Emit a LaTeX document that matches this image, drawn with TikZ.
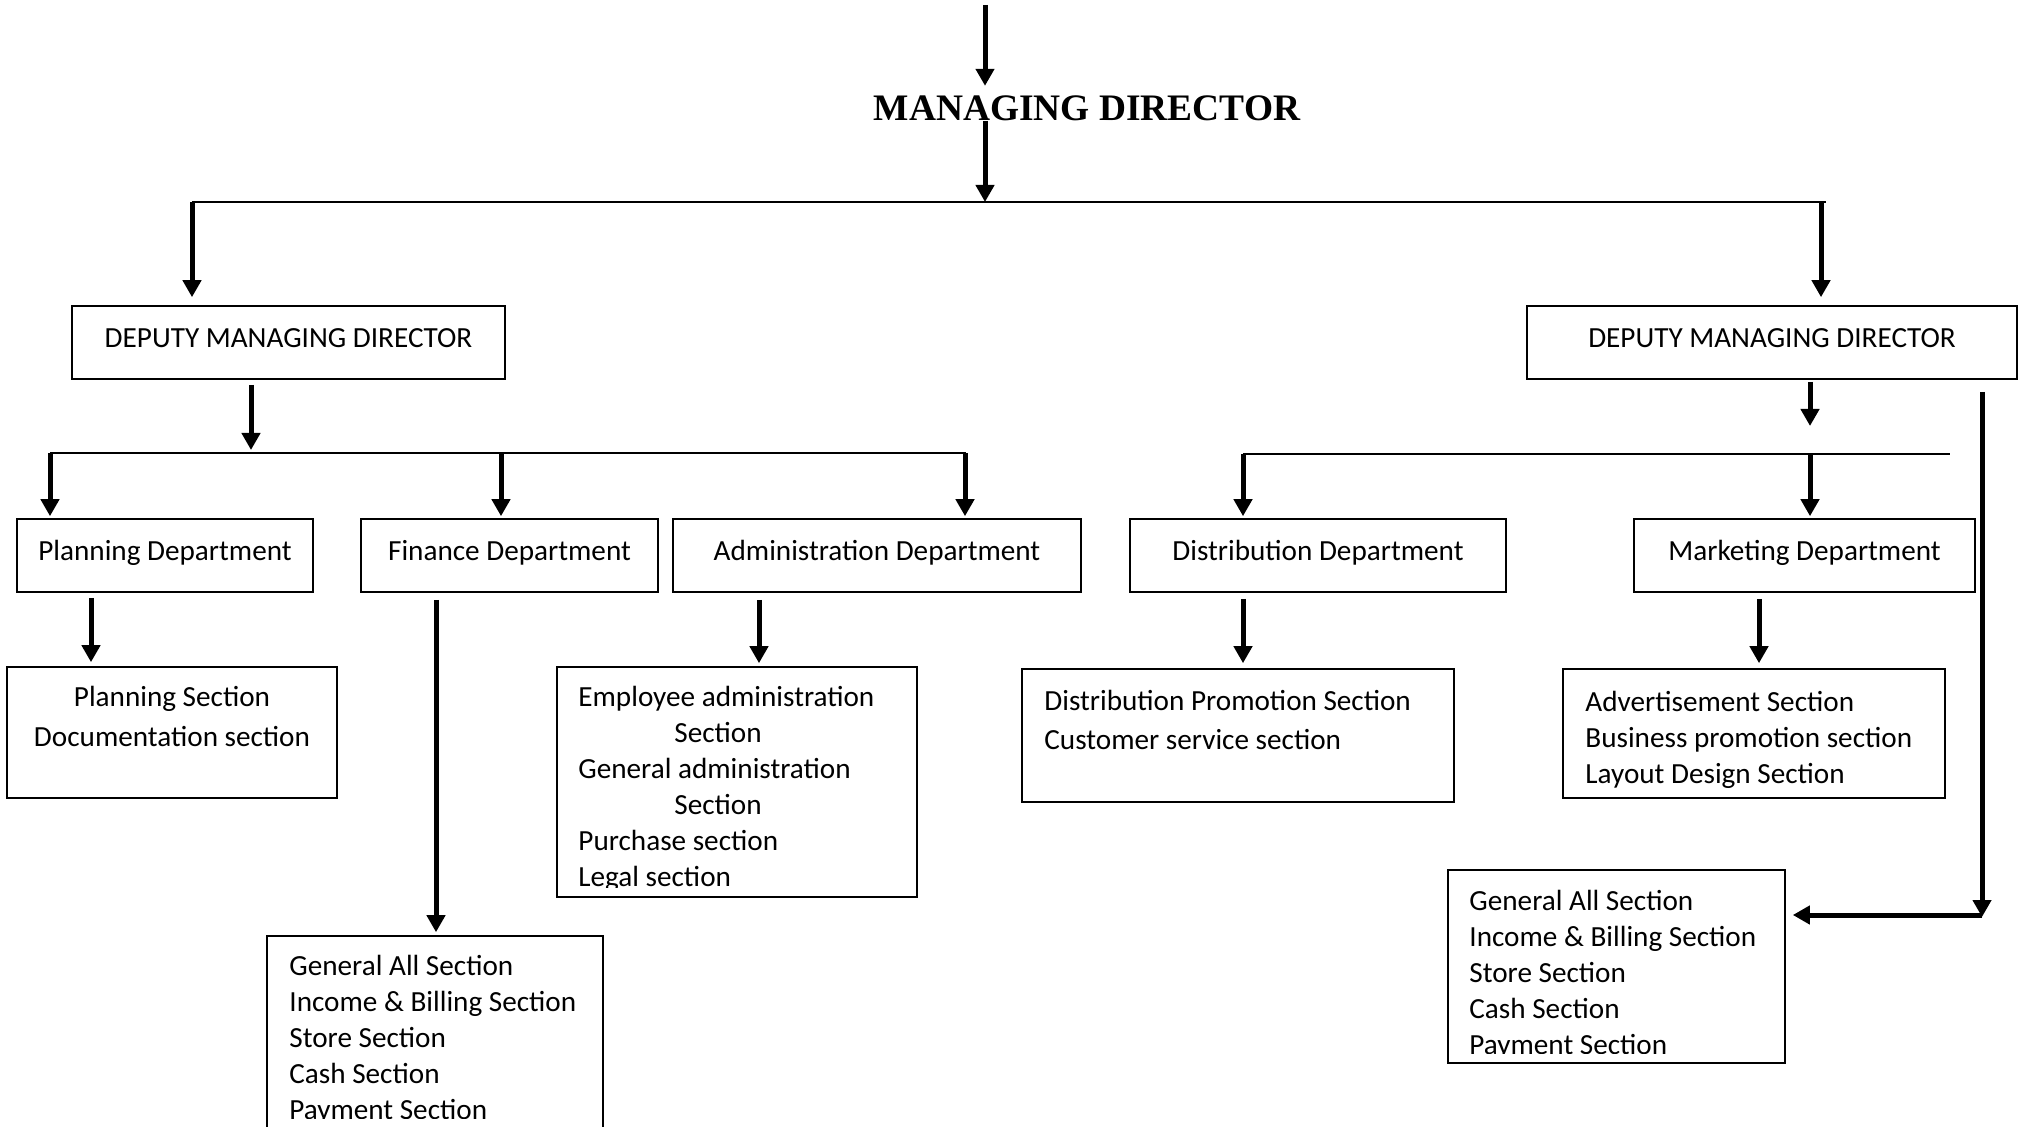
\documentclass[tikz,border=0pt]{standalone}
\usepackage{fontspec}
\setmainfont{Carlito}
\newfontfamily\mdserif{Liberation Serif}
\usetikzlibrary{arrows.meta,calc}
\newcommand\fsa{\fontsize{14.6}{18}\selectfont}
\newcommand\fsb{\fontsize{14.6}{20}\selectfont}
\newcommand\fsc{\fontsize{14.6}{19.5}\selectfont}
\newcommand\fsd{\fontsize{14.6}{18}\selectfont}
\begin{document}
\begin{tikzpicture}[x=0.5pt, y=-0.5pt,
  hbox/.style={draw, line width=0.8pt, inner sep=0pt, text height=10pt, text depth=4.5pt, font=\fsa},
  secbox/.style={draw, line width=0.8pt, inner sep=0pt},
  lines/.style={anchor=north west, inner sep=0pt, align=left, font=\fsa},
  arr/.style={line width=2.5pt, -{Triangle[length=8.5pt,width=9pt]}},
  bus/.style={line width=1pt}]
\path[use as bounding box] (0,0) rectangle (2022,1127);
\clip (0,0) rectangle (2022,1127);

% title
\node[font=\mdserif\bfseries\fontsize{18.7}{22}\selectfont, inner sep=0pt, anchor=base] (md) at (1087,121) {MANAGING DIRECTOR};

% deputy managing directors
\node[hbox, minimum width=216.5pt, minimum height=36.5pt] (dmdL) at (288.5,342.5) {DEPUTY MANAGING DIRECTOR};
\node[hbox, minimum width=245pt, minimum height=36.5pt] (dmdR) at (1772,342.5) {DEPUTY MANAGING DIRECTOR};

% departments
\node[hbox, minimum width=148pt, minimum height=36.5pt] (plan) at (165,555.5) {Planning Department};
\node[hbox, minimum width=148.5pt, minimum height=36.5pt] (fin) at (509.5,555.5) {Finance Department};
\node[hbox, minimum width=204pt, minimum height=36.5pt] (adm) at (877,555.5) {Administration Department};
\node[hbox, minimum width=188pt, minimum height=36.5pt] (dist) at (1318,555.5) {Distribution Department};
\node[hbox, minimum width=170.5pt, minimum height=36.5pt] (mkt) at (1804.5,555.5) {Marketing Department};

% section boxes
\node[secbox, minimum width=165pt, minimum height=65.5pt] (plans) at (172,732.5) {};
\node[secbox, minimum width=180pt, minimum height=115pt] (adms) at (737,782) {};
\node[secbox, minimum width=168pt, minimum height=110pt] (fins) at (435,1046) {};
\node[secbox, minimum width=216pt, minimum height=66.5pt] (dists) at (1238,735.5) {};
\node[secbox, minimum width=191pt, minimum height=64.5pt] (mkts) at (1754,733.5) {};
\node[secbox, minimum width=168.5pt, minimum height=96.5pt] (finsR) at (1616.5,966.5) {};

% section texts
\node[lines, anchor=north, align=center, font=\fsb] (planst) at (172,682) {\rule{0pt}{12pt}Planning Section\\Documentation section};
\begin{scope}
\clip (557,667) rectangle (917,887);
\node[lines] (admst) at (578,682) {\rule{0pt}{12pt}Employee administration\\\hspace*{48pt}Section\\General administration\\\hspace*{48pt}Section\\Purchase section\\Legal section};
\end{scope}
\begin{scope}
\clip (267,936) rectangle (603,1118);
\node[lines] (finst) at (289,951) {\rule{0pt}{12pt}General All Section\\Income \& Billing Section\\Store Section\\Cash Section\\Payment Section};
\end{scope}
\node[lines, font=\fsc] (distst) at (1044,686) {\rule{0pt}{12pt}Distribution Promotion Section\\Customer service section};
\node[lines, font=\fsd] (mktst) at (1585,687) {\rule{0pt}{12pt}Advertisement Section\\Business promotion section\\Layout Design Section};
\begin{scope}
\clip (1448,870) rectangle (1785,1053);
\node[lines] (finRt) at (1469,886) {\rule{0pt}{12pt}General All Section\\Income \& Billing Section\\Store Section\\Cash Section\\Payment Section};
\end{scope}

% coordinates
\coordinate (mdin) at (985,5);
\coordinate (busT) at (985,202);
\coordinate (busTL) at (192,202);
\coordinate (busTR) at (1826,202);
\coordinate (busTRa) at (1821,202);
\coordinate (busL) at (251,453);
\coordinate (busLa) at (50,453);
\coordinate (busLb) at (966,453);
\coordinate (busLf) at (501,453);
\coordinate (busLc) at (965,453);
\coordinate (dmdRd) at (1810,426);
\coordinate (busRa) at (1243,454);
\coordinate (busRb) at (1950,454);
\coordinate (busRm) at (1810,454);
\coordinate (corner) at (1982,917);

% top part
\draw[arr] (mdin) -- ($(md.north -| mdin)+(0,-10)$);
\draw[arr] (md.base -| mdin) -- (busT);
\draw[bus] (busTL) -- (busTR);
\draw[arr] (busTL) -- ($(dmdL.north -| busTL)+(0,-8)$);
\draw[arr] (busTRa) -- ($(dmdR.north -| busTRa)+(0,-8)$);

% left branch
\draw[arr] ($(dmdL.south -| busL)+(0,5)$) -- ($(busL)+(0,-3)$);
\draw[bus] (busLa) -- (busLb);
\draw[arr] (busLa) -- ($(plan.north -| busLa)+(0,-2)$);
\draw[arr] (busLf) -- ($(fin.north -| busLf)+(0,-2)$);
\draw[arr] (busLc) -- ($(adm.north -| busLc)+(0,-2)$);

% right branch
\draw[arr] ($(dmdR.south -| dmdRd)+(0,2)$) -- (dmdRd);
\draw[bus] (busRa) -- (busRb);
\draw[arr] (busRa) -- ($(dist.north -| busRa)+(0,-2)$);
\draw[arr] (busRm) -- ($(mkt.north -| busRm)+(0,-2)$);

% department to sections
\draw[arr] ($(plan.south)+(-74,5)$) -- ($(plans.north)+(-81,-4)$);
\draw[arr] ($(fin.south)+(-73.5,7)$) -- ($(fins.north)+(1,-3)$);
\draw[arr] ($(adm.south)+(-118,7)$) -- ($(adms.north)+(22,-3)$);
\draw[arr] ($(dist.south)+(-75,6)$) -- ($(dists.north)+(5,-5)$);
\draw[arr] ($(mkt.south)+(-45.5,6)$) -- ($(mkts.north)+(5,-5)$);

% long right connector
\draw[arr] ($(dmdR.south)+(210,12)$) -- (corner);
\draw[arr] ($(corner)+(0,-2)$) -- ($(finsR.east |- corner)+(7,-2)$);
\end{tikzpicture}
\end{document}
